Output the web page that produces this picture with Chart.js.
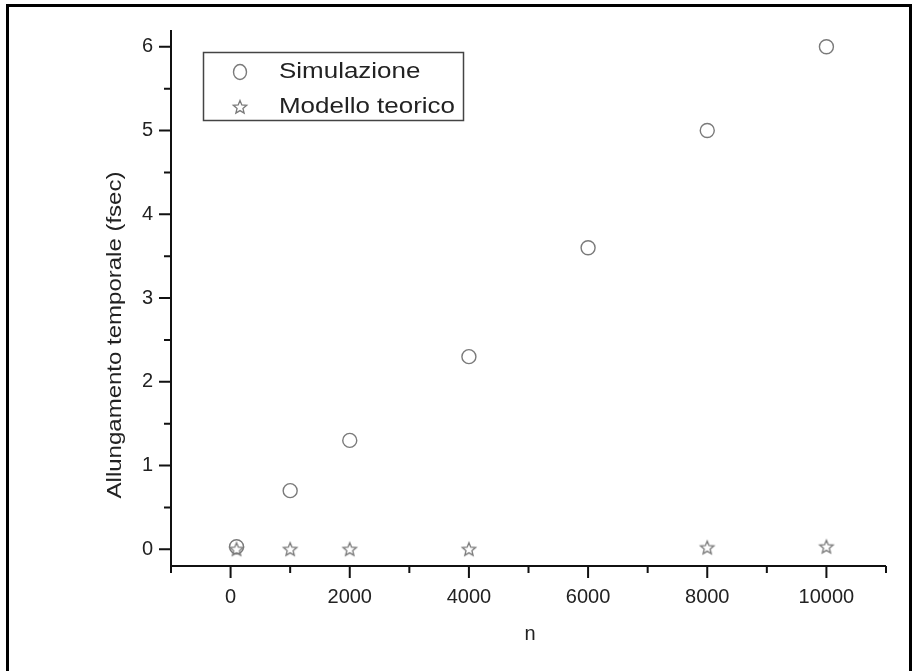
<!DOCTYPE html>
<html><head><meta charset="utf-8">
<script src="https://cdn.jsdelivr.net/npm/chart.js@4/dist/chart.umd.min.js"></script>
<style>html,body{margin:0;padding:0;background:#fff}canvas{display:block}</style>
</head><body>
<canvas id="c" width="916" height="671"></canvas>
<script>
// ---- data ----
const seriesLabels = ['Simulazione', 'Modello teorico'];
const nSimulazione = [100, 1000, 2000, 4000, 6000, 8000, 10000];
const simulazione = [0.03, 0.7, 1.3, 2.3, 3.6, 5.0, 6.0];
const nTeorico = [100, 1000, 2000, 4000, 8000, 10000];
const modelloTeorico = [0.0, 0.0, 0.0, 0.0, 0.02, 0.03];
const xTickValues = [0, 2000, 4000, 6000, 8000, 10000];
const xMinorValues = [-1000, 1000, 3000, 5000, 7000, 9000, 11000];
const yTickValues = [0, 1, 2, 3, 4, 5, 6];
const yMinorValues = [0.5, 1.5, 2.5, 3.5, 4.5, 5.5];
const xTitle = 'n';
const yTitle = 'Allungamento temporale (fsec)';

const FONT = '"Liberation Sans", Arial, sans-serif';
const MARK = '#7a7a7a';

function makeStar() {
  const c = document.createElement('canvas');
  c.width = 18; c.height = 18;
  const g = c.getContext('2d');
  g.strokeStyle = MARK; g.lineWidth = 1.3;
  g.beginPath();
  for (let i = 0; i < 10; i++) {
    const r = i % 2 === 0 ? 7 : 3.1;
    const a = -Math.PI / 2 + i * Math.PI / 5;
    const px = 9 + r * Math.cos(a), py = 9.5 + r * Math.sin(a);
    if (i === 0) g.moveTo(px, py); else g.lineTo(px, py);
  }
  g.closePath(); g.stroke();
  return c;
}
const starImg = makeStar();

const decor = {
  id: 'decor',
  afterDraw(chart) {
    const ctx = chart.ctx;
    const xs = chart.scales.x, ys = chart.scales.y;
    const ca = chart.chartArea;
    ctx.save();
    // outer frame
    ctx.strokeStyle = '#000'; ctx.lineWidth = 3;
    ctx.beginPath();
    ctx.moveTo(7.5, 671); ctx.lineTo(7.5, 5.5); ctx.lineTo(910.5, 5.5); ctx.lineTo(910.5, 671);
    ctx.stroke();
    // axes
    ctx.lineWidth = 2; ctx.strokeStyle = '#111';
    ctx.beginPath();
    ctx.moveTo(ca.left, ca.top); ctx.lineTo(ca.left, ca.bottom); ctx.lineTo(ca.right, ca.bottom);
    ctx.stroke();
    ctx.beginPath();
    xTickValues.forEach(v => { const p = xs.getPixelForValue(v); ctx.moveTo(p, ca.bottom); ctx.lineTo(p, ca.bottom + 12); });
    xMinorValues.forEach(v => { const p = xs.getPixelForValue(v); ctx.moveTo(p, ca.bottom); ctx.lineTo(p, ca.bottom + 7); });
    yTickValues.forEach(v => { const p = ys.getPixelForValue(v); ctx.moveTo(ca.left, p); ctx.lineTo(ca.left - 12, p); });
    yMinorValues.forEach(v => { const p = ys.getPixelForValue(v); ctx.moveTo(ca.left, p); ctx.lineTo(ca.left - 7, p); });
    ctx.stroke();
    // titles
    ctx.fillStyle = '#222';
    ctx.font = '20px ' + FONT;
    ctx.textAlign = 'center'; ctx.textBaseline = 'middle';
    ctx.fillText(xTitle, 530, 634);
    ctx.save();
    ctx.translate(115, 335); ctx.rotate(-Math.PI / 2); ctx.scale(1.2, 1);
    ctx.fillText(yTitle, 0, 0);
    ctx.restore();
    // legend
    ctx.lineWidth = 1.5; ctx.strokeStyle = '#444';
    ctx.strokeRect(203.5, 52.5, 260, 68);
    ctx.strokeStyle = MARK; ctx.lineWidth = 1.4;
    ctx.beginPath(); ctx.ellipse(240, 72, 6.5, 7.5, 0, 0, Math.PI * 2); ctx.stroke();
    ctx.drawImage(starImg, 231, 98);
    ctx.fillStyle = '#222';
    ctx.textAlign = 'left';
    ctx.font = '22px ' + FONT;
    [[seriesLabels[0], 72], [seriesLabels[1], 107]].forEach(([t, y]) => {
      ctx.save(); ctx.translate(279, y); ctx.scale(1.18, 1); ctx.fillText(t, 0, 0); ctx.restore();
    });
    ctx.restore();
  }
};

new Chart(document.getElementById('c'), {
  type: 'scatter',
  data: {
    datasets: [
      {
        label: seriesLabels[0],
        data: nSimulazione.map((x, i) => ({ x, y: simulazione[i] })),
        pointStyle: 'circle', pointRadius: 7, borderWidth: 1.4,
        borderColor: MARK, backgroundColor: 'rgba(0,0,0,0)', showLine: false
      },
      {
        label: seriesLabels[1],
        data: nTeorico.map((x, i) => ({ x, y: modelloTeorico[i] })),
        pointStyle: starImg, pointRadius: 7,
        borderColor: MARK, backgroundColor: 'rgba(0,0,0,0)', showLine: false
      }
    ]
  },
  options: {
    responsive: false, animation: false,
    layout: { padding: { top: 25, right: 30, left: 0, bottom: 0 } },
    plugins: { legend: { display: false }, tooltip: { enabled: false } },
    scales: {
      x: {
        type: 'linear', min: -1000, max: 11000,
        afterBuildTicks: s => { s.ticks = xTickValues.map(v => ({ value: v })); },
        afterFit: s => { s.height = 105; },
        grid: { display: false, drawTicks: false }, border: { display: false },
        ticks: { font: { size: 20, family: FONT }, color: '#222', padding: 19, maxRotation: 0, autoSkip: false,
                 callback: v => String(v) }
      },
      y: {
        type: 'linear', min: -0.2, max: 6.2,
        afterBuildTicks: s => { s.ticks = yTickValues.map(v => ({ value: v })); },
        afterFit: s => { s.width = 171; },
        grid: { display: false, drawTicks: false }, border: { display: false },
        ticks: { font: { size: 20, family: FONT }, color: '#222', padding: 18, callback: v => String(v) }
      }
    }
  },
  plugins: [decor]
});
</script>
</body></html>
